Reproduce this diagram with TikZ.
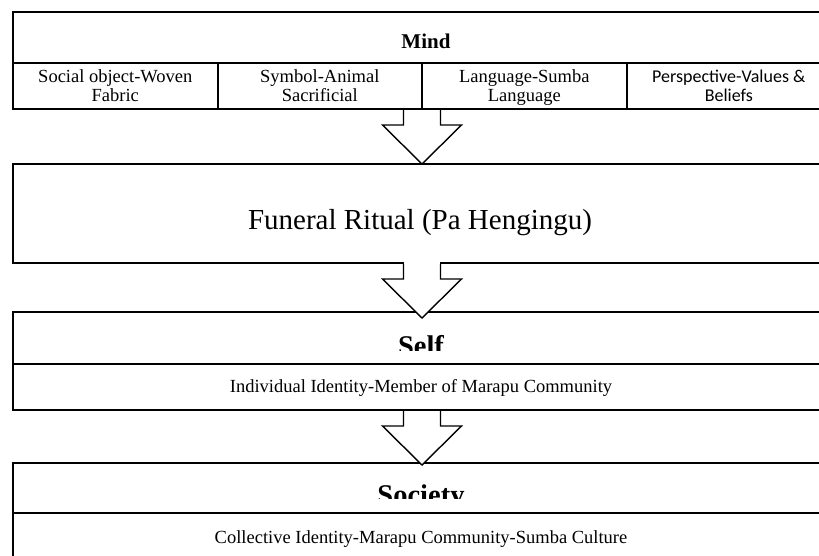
\documentclass[tikz,border=0pt]{standalone}
\usepackage{fontspec}
\setmainfont{Liberation Serif}
\newfontfamily\calibfont{Carlito}
\usetikzlibrary{calc}
\begin{document}
\begin{tikzpicture}[x=1pt,y=-1pt,
  frame/.style={draw=black,line width=2pt,inner sep=0pt,anchor=north west,minimum width=818pt},
  cell/.style={draw=black,line width=1.6pt,inner sep=0pt,anchor=north west,minimum height=46pt},
  small/.style={inner sep=0pt,anchor=base,align=center,font=\fontsize{18.5}{19}\selectfont},
  title/.style={inner sep=0pt,anchor=base,font=\bfseries\fontsize{28.5}{29}\selectfont},
  blockarrow/.style={draw=black,line width=1.4pt,fill=white,line join=miter}
]
\useasboundingbox (0,0) rectangle (819,555);
\clip (0,0) rectangle (819,555);
\fill[white] (0,0) rectangle (819,555);

% Mind box
\node[frame,minimum height=97pt] (mind) at (12,11) {};
\node[cell,minimum width=205pt] (c1) at (12,62) {};
\node[cell,minimum width=204pt] (c2) at (217,62) {};
\node[cell,minimum width=205pt] (c3) at (421,62) {};
\node[cell,minimum width=204pt] (c4) at (626,62) {};
\node[frame,minimum height=97pt,fill=none] (mindframe) at (12,11) {};
\node[inner sep=0pt,anchor=base,font=\bfseries\fontsize{21}{21}\selectfont] (mindlbl) at (426,48) {Mind};
\node[small] (c1t) at (c1.center |- 0,101) {Social object-Woven\\Fabric};
\node[small] (c2t) at (c2.center |- 0,101) {Symbol-Animal\\Sacrificial};
\node[small] (c3t) at (c3.center |- 0,101) {Language-Sumba\\Language};
\node[small,font=\calibfont\fontsize{18}{19}\selectfont] (c4t) at (c4.center |- 0,101) {Perspective-Values \&\\Beliefs};

% Funeral box
\node[frame,minimum height=99pt] (fun) at (12,163) {};
\node[inner sep=0pt,anchor=base,font=\fontsize{29}{29}\selectfont] (funlbl) at (420,229) {Funeral Ritual (Pa Hengingu)};

% Self box
\node[frame,minimum height=98pt] (self) at (12,311) {};
\draw[line width=1.6pt] (self.west |- 0,364) coordinate (sl) -- (self.east |- 0,364) coordinate (sr);
\begin{scope}
\clip (12,320) rectangle (830,350);
\node[title] (selflbl) at (421,355) {Self};
\end{scope}
\node[small] (selfsub) at (421,392) {Individual Identity-Member of Marapu Community};

% Society box
\node[frame,minimum height=120pt] (soc) at (12,462) {};
\draw[line width=1.6pt] (soc.west |- 0,513) coordinate (scl) -- (soc.east |- 0,513) coordinate (scr);
\begin{scope}
\clip (12,470) rectangle (830,498);
\node[title] (soclbl) at (421,504) {Society};
\end{scope}
\node[small] (socsub) at (421,543) {Collective Identity-Marapu Community-Sumba Culture};

% block arrows
\newcommand\blockarr[1]{%
  \draw[blockarrow] ($(#1.south)+(-18.5,0)$) -- ++(0,15) -- ++(-21,0) -- ++(39.5,39) -- ++(39.5,-39) -- ++(-21,0) -- ++(0,-15);}
\blockarr{mind}
\fill[white] ($(fun.south)+(-17.8,-2)$) rectangle ($(fun.south)+(17.8,3)$);
\blockarr{fun}
\blockarr{self}
\end{tikzpicture}
\end{document}
